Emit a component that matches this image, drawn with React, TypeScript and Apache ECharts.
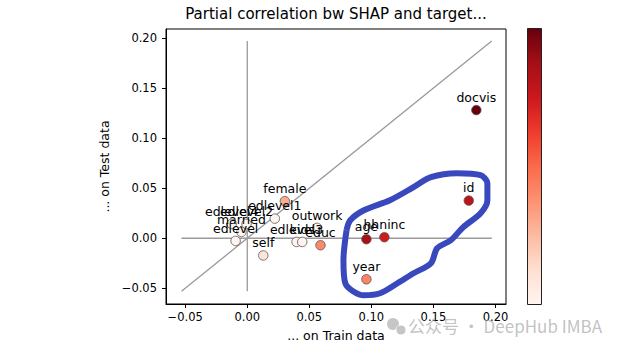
import React, { useEffect, useRef } from "react";
import * as echarts from "echarts";

// Feature names, train / test partial correlations, colour value (0..1 on the Reds scale)
const names = ["docvis", "id", "hhninc", "age", "year", "educ", "female", "edlevel1", "outwork", "edlevel3", "kids", "self", "edlevel", "married", "edlevel4", "edlevel2"];
const trainCorr = [0.1846, 0.1785, 0.1105, 0.096, 0.096, 0.059, 0.0303, 0.0222, 0.0563, 0.0397, 0.0443, 0.0129, -0.0094, -0.0047, -0.0126, -0.0006];
const testCorr = [0.128, 0.0376, 0.001, -0.001, -0.041, -0.007, 0.037, 0.0196, 0.0103, -0.0037, -0.0037, -0.0172, -0.0027, 0.0063, 0.0143, 0.0143];
const colourValue = [1.0, 0.8, 0.74, 0.86, 0.42, 0.4, 0.3, 0.0, 0.0, 0.02, 0.0, 0.1, 0.0, 0.0, 0.0, 0.0];

const tickValues = [-0.05, 0, 0.05, 0.1, 0.15, 0.2];

// reference lines (data coords)
const diagLine = [[-0.053, -0.053], [0.197, 0.197]];
const hLine = [[-0.053, 0], [0.197, 0]];
const vLine = [[0, -0.053], [0, 0.197]];

// hand-drawn highlight loop (data coords)
const loopX = [0.080, 0.0775, 0.079, 0.094, 0.107, 0.121, 0.134, 0.148, 0.153, 0.164, 0.174, 0.188, 0.1935, 0.1935, 0.188, 0.169, 0.148, 0.134, 0.115, 0.094, 0.083, 0.080];
const loopY = [0.008, -0.022, -0.045, -0.057, -0.055, -0.045, -0.035, -0.025, -0.010, -0.002, 0.011, 0.025, 0.038, 0.055, 0.063, 0.065, 0.061, 0.051, 0.038, 0.028, 0.018, 0.008];

const reds = ["#fff5f0", "#fee0d2", "#fcbba1", "#fc9272", "#fb6a4a", "#ef3b2c", "#cb181d", "#a50f15", "#67000d"];

const FONT = "DejaVu Sans";

function fmt(v: number) {
  const s = Math.abs(v).toFixed(2);
  return v < -1e-9 ? "\u2212" + s : s;
}

export default function App() {
  const ref = useRef<HTMLDivElement>(null);
  useEffect(() => {
    if (!ref.current) return;
    const chart = echarts.init(ref.current, null, { renderer: "svg" });
    const points = names.map((n, i) => [trainCorr[i], testCorr[i], colourValue[i], n]);
    const loop = loopX.map((x, i) => [x, loopY[i]]);
    const refStyle = { color: "#9a9a9a", width: 1.3 };
    const axisCommon = {
      type: "value" as const,
      min: -0.0655,
      max: 0.2085,
      splitLine: { show: false },
      axisLine: { show: true, onZero: false, lineStyle: { color: "#000", width: 1 } },
      axisTick: { show: true, inside: false, length: 4, lineStyle: { color: "#000" }, customValues: tickValues },
      axisLabel: { customValues: tickValues, formatter: (v: number) => fmt(v), color: "#000", fontFamily: FONT, fontSize: 11.5 },
      nameLocation: "middle" as const,
      nameTextStyle: { color: "#000", fontFamily: FONT, fontSize: 12.5 },
    };
    // colour bar gradient: top = high, bottom = low
    const stops = reds.map((c, i) => ({ offset: 1 - i / (reds.length - 1), color: c })).reverse();
    chart.setOption({
      animation: false,
      backgroundColor: "#fff",
      title: {
        text: "Partial correlation bw SHAP and target...",
        left: 336,
        top: 6,
        textAlign: "center",
        padding: 0,
        textStyle: { fontFamily: FONT, fontSize: 15, fontWeight: "normal", color: "#000" },
      },
      grid: { left: 166, right: 134, top: 29, bottom: 49, show: true, borderColor: "#000", borderWidth: 1, backgroundColor: "transparent" },
      xAxis: { ...axisCommon, name: "... on Train data", nameGap: 25, axisLabel: { ...axisCommon.axisLabel, margin: 7 } },
      yAxis: { ...axisCommon, min: -0.0657, max: 0.209, name: "... on Test data", nameGap: 41, axisLabel: { ...axisCommon.axisLabel, margin: 9 } },
      visualMap: {
        type: "continuous",
        show: false,
        min: 0,
        max: 1,
        dimension: 2,
        seriesIndex: 0,
        inRange: { color: reds },
      },
      graphic: [
        {
          type: "rect",
          left: 527,
          top: 28,
          shape: { width: 14, height: 276 },
          style: {
            fill: new echarts.graphic.LinearGradient(0, 0, 0, 1, stops),
            stroke: "#222",
            lineWidth: 1,
          },
          z: 100,
        },
        { type: "text", left: 408, top: 317, style: { text: "公众号 · DeepHub IMBA", fill: "rgba(160,160,160,0.65)", font: "17px 'Noto Sans CJK SC'" }, z: 100 },
        { type: "circle", shape: { cx: 393, cy: 324, r: 6 }, style: { fill: "rgba(160,160,160,0.6)" }, z: 100 },
        { type: "circle", shape: { cx: 401, cy: 330, r: 5 }, style: { fill: "rgba(160,160,160,0.6)", stroke: "#fff", lineWidth: 1 }, z: 100 },
      ],
      series: [
        {
          type: "scatter",
          data: points,
          symbolSize: 9.5,
          z: 5,
          itemStyle: { borderColor: "#555", borderWidth: 0.8, opacity: 1 },
          label: {
            show: true,
            position: "top",
            distance: 1,
            formatter: (p: any) => p.data[3],
            color: "#000",
            fontFamily: FONT,
            fontSize: 12.5,
          },
          labelLayout: { hideOverlap: false },
          silent: true,
        },
        { type: "line", data: diagLine, symbol: "none", lineStyle: refStyle, z: 1, silent: true },
        { type: "line", data: hLine, symbol: "none", lineStyle: refStyle, z: 1, silent: true },
        { type: "line", data: vLine, symbol: "none", lineStyle: refStyle, z: 1, silent: true },
        { type: "line", data: loop, symbol: "none", smooth: 0.3, lineStyle: { color: "#3a48be", width: 6 }, z: 3, silent: true },
      ],
    });
    return () => chart.dispose();
  }, []);
  return <div ref={ref} style={{ width: 640, height: 353, position: "fixed", left: 0, top: 0 }} />;
}
